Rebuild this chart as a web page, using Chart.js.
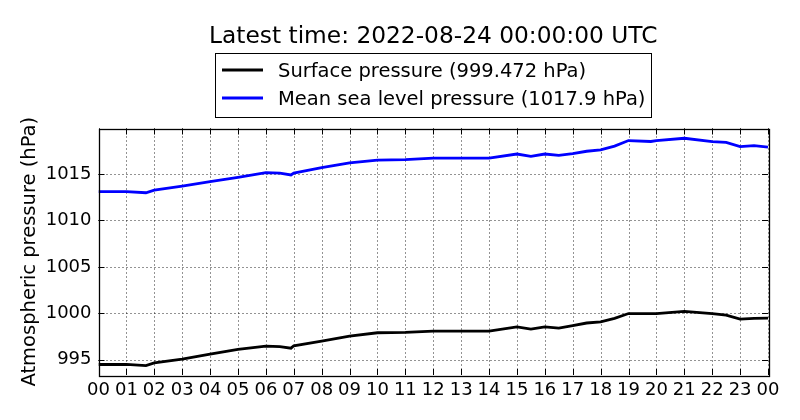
<!DOCTYPE html>
<html>
<head>
<meta charset="utf-8">
<script src="https://cdn.jsdelivr.net/npm/chart.js@4"></script>
<style>
html,body{margin:0;padding:0;background:#fff;}
#wrap{width:800px;height:420px;position:relative;}
</style>
</head>
<body>
<div id="wrap"><canvas id="c" width="800" height="420"></canvas></div>
<script>
// ---- data ----
const titleText = "Latest time: 2022-08-24 00:00:00 UTC";
const yAxisLabel = "Atmospheric pressure (hPa)";
const hours = [0,1,1.7,2,3,4,5,6,6.5,6.9,7,8,9,10,11,12,13,14,15,15.5,16,16.5,17,17.5,18,18.5,19,19.8,20,21,22,22.5,23,23.5,24];
const surfacePressure = [994.48,994.5,994.37,994.66,995.05,995.6,996.1,996.45,996.4,996.24,996.5,997.0,997.53,997.9,997.95,998.07,998.07,998.07,998.54,998.3,998.54,998.4,998.68,998.95,999.07,999.45,999.97,999.95,999.97,1000.2,999.97,999.8,999.36,999.45,999.47];
const mslPressure = [1013.1,1013.1,1012.98,1013.27,1013.7,1014.17,1014.64,1015.14,1015.1,1014.9,1015.1,1015.68,1016.2,1016.5,1016.55,1016.7,1016.7,1016.7,1017.15,1016.9,1017.15,1017.0,1017.2,1017.45,1017.6,1018.0,1018.6,1018.5,1018.6,1018.85,1018.48,1018.4,1017.95,1018.05,1017.9];
const seriesNames = ["Surface pressure (999.472 hPa)", "Mean sea level pressure (1017.9 hPa)"];
const seriesColors = ["#000000", "#0000ff"];
const xTickHours = [0,1,2,3,4,5,6,7,8,9,10,11,12,13,14,15,16,17,18,19,20,21,22,23,24];
const yTickValues = [995,1000,1005,1010,1015];

const FONT = "'DejaVu Sans', sans-serif";

const decorPlugin = {
  id: 'decor',
  beforeDatasetsDraw(chart) {
    const {ctx, chartArea: a, scales: {x, y}} = chart;
    ctx.save();
    ctx.strokeStyle = 'rgba(0,0,0,0.85)';
    ctx.lineWidth = 1;
    ctx.setLineDash([1, 3]);
    xTickHours.forEach(h => {
      const px = Math.round(x.getPixelForValue(h)) + 0.5;
      ctx.beginPath(); ctx.moveTo(px, a.top); ctx.lineTo(px, a.bottom); ctx.stroke();
    });
    yTickValues.forEach(v => {
      const py = Math.round(y.getPixelForValue(v)) + 0.5;
      ctx.beginPath(); ctx.moveTo(a.left, py); ctx.lineTo(a.right, py); ctx.stroke();
    });
    ctx.restore();
  },
  afterDatasetsDraw(chart) {
    const {ctx, chartArea: a, scales: {x, y}} = chart;
    ctx.save();
    ctx.strokeStyle = '#000';
    ctx.lineWidth = 1;
    ctx.setLineDash([]);
    const T = 6;
    xTickHours.forEach(h => {
      const px = Math.round(x.getPixelForValue(h)) + 0.5;
      ctx.beginPath(); ctx.moveTo(px, a.bottom); ctx.lineTo(px, a.bottom - T); ctx.stroke();
      ctx.beginPath(); ctx.moveTo(px, a.top); ctx.lineTo(px, a.top + T); ctx.stroke();
    });
    yTickValues.forEach(v => {
      const py = Math.round(y.getPixelForValue(v)) + 0.5;
      ctx.beginPath(); ctx.moveTo(a.left, py); ctx.lineTo(a.left + T, py); ctx.stroke();
      ctx.beginPath(); ctx.moveTo(a.right, py); ctx.lineTo(a.right - T, py); ctx.stroke();
    });
    // frame
    ctx.lineWidth = 1.3;
    ctx.strokeRect(Math.round(a.left) + 0.5, Math.round(a.top) + 0.5, Math.round(a.right - a.left), Math.round(a.bottom - a.top));
    // title
    const cx = (a.left + a.right) / 2;
    ctx.fillStyle = '#000';
    ctx.font = "23.3px " + FONT;
    ctx.textAlign = 'center';
    ctx.textBaseline = 'alphabetic';
    ctx.fillText(titleText, cx, 43);
    // legend box
    ctx.fillStyle = '#fff';
    ctx.fillRect(215.5, 53.5, 436, 64);
    ctx.strokeStyle = '#000';
    ctx.lineWidth = 1;
    ctx.strokeRect(215.5, 53.5, 436, 64);
    const rows = [70, 98];
    const bases = [77, 105];
    ctx.font = "19.5px " + FONT;
    ctx.textAlign = 'left';
    chart.data.datasets.forEach((ds, i) => {
      ctx.strokeStyle = ds.borderColor;
      ctx.lineWidth = 2.8;
      ctx.beginPath(); ctx.moveTo(222, rows[i]); ctx.lineTo(263, rows[i]); ctx.stroke();
      ctx.fillStyle = '#000';
      ctx.fillText(ds.label, 278, bases[i]);
    });
    // y-axis label
    ctx.save();
    ctx.translate(30, (a.top + a.bottom) / 2);
    ctx.rotate(-Math.PI / 2);
    ctx.font = "19.5px " + FONT;
    ctx.textAlign = 'center';
    ctx.textBaseline = 'middle';
    ctx.fillText(yAxisLabel, 0, 0);
    ctx.restore();
    ctx.restore();
  }
};

const mk = (vals) => hours.map((h, i) => ({x: h, y: vals[i]}));

new Chart(document.getElementById('c'), {
  type: 'line',
  data: {
    datasets: [
      {label: seriesNames[0], data: mk(surfacePressure), borderColor: seriesColors[0], borderWidth: 2.8, pointRadius: 0, tension: 0, fill: false},
      {label: seriesNames[1], data: mk(mslPressure), borderColor: seriesColors[1], borderWidth: 2.8, pointRadius: 0, tension: 0, fill: false}
    ]
  },
  options: {
    responsive: false,
    animation: false,
    devicePixelRatio: 1,
    layout: {padding: {top: 128.5, right: 32, left: 0, bottom: 0}},
    plugins: {legend: {display: false}, title: {display: false}, tooltip: {enabled: false}},
    scales: {
      x: {
        type: 'linear', min: 0, max: 24,
        grid: {display: false, drawTicks: false},
        border: {display: false},
        afterBuildTicks: (s) => { s.ticks = xTickHours.map(v => ({value: v})); },
        ticks: {
          autoSkip: false, maxRotation: 0, color: '#000', padding: 5,
          font: {family: FONT, size: 18},
          callback: (v) => String(v % 24).padStart(2, '0')
        },
        afterFit: (s) => { s.height = 45; }
      },
      y: {
        type: 'linear', min: 993.35, max: 1019.9,
        grid: {display: false, drawTicks: false},
        border: {display: false},
        afterBuildTicks: (s) => { s.ticks = yTickValues.map(v => ({value: v})); },
        ticks: {
          color: '#000', padding: 7,
          font: {family: FONT, size: 18},
          callback: (v) => String(v)
        },
        afterFit: (s) => { s.width = 98.5; }
      }
    }
  },
  plugins: [decorPlugin]
});
</script>
</body>
</html>
